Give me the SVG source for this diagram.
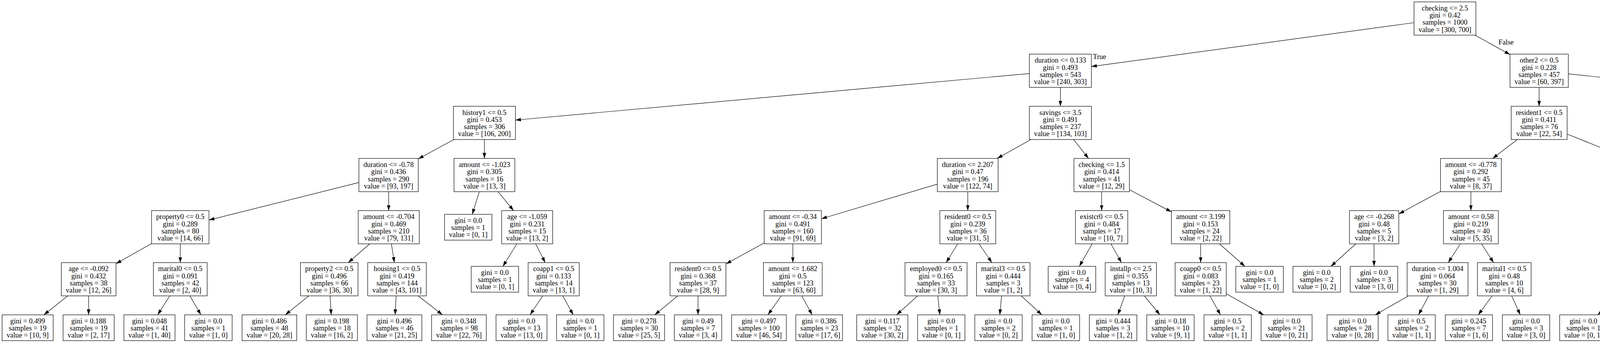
<svg xmlns="http://www.w3.org/2000/svg" width="6683" height="877" viewBox="0 0 6683 877">
<style>
text{font-family:"Liberation Serif","Times New Roman",Times,serif;font-size:18.3px;text-anchor:middle;fill:#000}
.nodes rect{fill:#fff;stroke:#000;stroke-width:1.2}
.edges line{stroke:#000;stroke-width:1.2;fill:none;marker-end:url(#ah)}
</style>
<defs>
<marker id="ah" markerUnits="userSpaceOnUse" markerWidth="14" markerHeight="10" refX="14" refY="5" orient="auto"><path d="M0,0.5L14,5L0,9.5z" fill="#000"/></marker>
</defs>
<rect width="6683" height="877" fill="#fff"/>
<g class="edges">
<line x1="3619.9" y1="58.0" x2="2794.0" y2="170.1"/>
<line x1="3775.8" y1="89.8" x2="3865.6" y2="139.5"/>
<line x1="2635.2" y1="188.1" x2="1319.5" y2="307.0"/>
<line x1="2714.6" y1="223.4" x2="2714.6" y2="271.7"/>
<line x1="3940.2" y1="223.4" x2="3940.2" y2="271.7"/>
<line x1="4014.9" y1="188.8" x2="5122.8" y2="306.3"/>
<line x1="1161.9" y1="356.7" x2="1070.7" y2="406.3"/>
<line x1="1240.1" y1="356.7" x2="1240.1" y2="405.1"/>
<line x1="2639.0" y1="356.7" x2="2552.9" y2="405.1"/>
<line x1="2748.3" y1="356.7" x2="2786.6" y2="405.1"/>
<line x1="3884.5" y1="356.7" x2="3821.2" y2="405.1"/>
<line x1="4011.8" y1="342.8" x2="4203.9" y2="419.7"/>
<line x1="5197.6" y1="356.7" x2="5197.6" y2="405.1"/>
<line x1="5272.4" y1="330.9" x2="5716.7" y2="429.9"/>
<line x1="918.8" y1="466.6" x2="535.0" y2="562.6"/>
<line x1="995.0" y1="490.1" x2="995.0" y2="538.5"/>
<line x1="1227.0" y1="490.1" x2="1209.0" y2="548.0"/>
<line x1="1275.0" y1="490.1" x2="1314.7" y2="538.5"/>
<line x1="2399.5" y1="470.8" x2="2102.9" y2="559.2"/>
<line x1="2477.5" y1="490.1" x2="2477.5" y2="538.5"/>
<line x1="2820.2" y1="490.1" x2="2820.2" y2="538.5"/>
<line x1="2891.3" y1="485.0" x2="2998.8" y2="541.6"/>
<line x1="3687.6" y1="489.5" x2="3580.9" y2="547.0"/>
<line x1="3765.5" y1="490.1" x2="3765.5" y2="538.5"/>
<line x1="4273.5" y1="490.1" x2="4273.5" y2="538.5"/>
<line x1="4343.6" y1="472.7" x2="4575.9" y2="556.3"/>
<line x1="5169.2" y1="490.1" x2="5136.9" y2="538.5"/>
<line x1="5226.1" y1="490.1" x2="5258.5" y2="538.5"/>
<line x1="5796.1" y1="490.1" x2="5796.1" y2="538.5"/>
<line x1="5875.5" y1="471.7" x2="6154.2" y2="556.5"/>
<line x1="388.0" y1="622.7" x2="296.9" y2="674.3"/>
<line x1="461.5" y1="623.5" x2="461.5" y2="671.5"/>
<line x1="946.5" y1="623.5" x2="891.5" y2="671.5"/>
<line x1="1002.0" y1="623.5" x2="1009.6" y2="671.5"/>
<line x1="1323.2" y1="623.5" x2="1287.4" y2="681.0"/>
<line x1="1371.2" y1="623.5" x2="1395.8" y2="671.5"/>
<line x1="1956.3" y1="621.2" x2="1858.4" y2="674.8"/>
<line x1="2029.6" y1="623.5" x2="2029.6" y2="671.5"/>
<line x1="2451.6" y1="623.5" x2="2422.2" y2="671.5"/>
<line x1="2506.5" y1="623.5" x2="2539.3" y2="671.5"/>
<line x1="2795.9" y1="623.5" x2="2763.1" y2="681.0"/>
<line x1="2844.0" y1="623.5" x2="2871.0" y2="671.5"/>
<line x1="3073.7" y1="623.5" x2="3073.7" y2="671.5"/>
<line x1="3121.8" y1="623.5" x2="3187.1" y2="681.0"/>
<line x1="3470.8" y1="623.5" x2="3407.2" y2="681.0"/>
<line x1="3517.5" y1="623.5" x2="3517.5" y2="681.0"/>
<line x1="3738.2" y1="623.5" x2="3707.5" y2="671.5"/>
<line x1="3792.8" y1="623.5" x2="3823.6" y2="671.5"/>
<line x1="4247.0" y1="623.5" x2="4217.2" y2="671.5"/>
<line x1="4299.8" y1="623.5" x2="4329.7" y2="671.5"/>
<line x1="4644.2" y1="623.5" x2="4644.2" y2="671.5"/>
<line x1="4692.5" y1="623.5" x2="4757.5" y2="681.0"/>
<line x1="5057.3" y1="623.5" x2="4988.0" y2="681.0"/>
<line x1="5108.45" y1="623.5" x2="5108.45" y2="671.5"/>
<line x1="5286.95" y1="623.5" x2="5286.95" y2="671.5"/>
<line x1="5339.3" y1="623.5" x2="5410.3" y2="681.0"/>
<line x1="5771.4" y1="623.5" x2="5743.5" y2="671.5"/>
<line x1="5821.3" y1="623.5" x2="5849.8" y2="671.5"/>
<line x1="6235.0" y1="623.5" x2="6235.0" y2="671.5"/>
<line x1="6308.6" y1="623.5" x2="6400.2" y2="676.3"/>
<line x1="173.4" y1="756.5" x2="112.3" y2="805"/>
<line x1="226.9" y1="756.5" x2="226.9" y2="805"/>
<line x1="434.5" y1="756.5" x2="403.6" y2="805"/>
<line x1="486.2" y1="756.5" x2="514.3" y2="805"/>
<line x1="790.3" y1="756.5" x2="730.4" y2="805"/>
<line x1="845.1" y1="756.5" x2="847.8" y2="805"/>
<line x1="1014.1" y1="756.5" x2="1011.5" y2="805"/>
<line x1="1070.7" y1="756.5" x2="1132.7" y2="805"/>
<line x1="1389.2" y1="756.5" x2="1357.0" y2="805"/>
<line x1="1440.8" y1="756.5" x2="1467.4" y2="805"/>
<line x1="1735.1" y1="756.5" x2="1676.1" y2="805"/>
<line x1="1786.9" y1="756.5" x2="1786.9" y2="805"/>
<line x1="1999.9" y1="756.5" x2="1966.0" y2="805"/>
<line x1="2052.7" y1="756.5" x2="2079.1" y2="805"/>
<line x1="2349.1" y1="756.5" x2="2295.3" y2="805"/>
<line x1="2400.8" y1="756.5" x2="2406.1" y2="805"/>
<line x1="2564.1" y1="756.5" x2="2559.4" y2="805"/>
<line x1="2614.4" y1="756.5" x2="2667.1" y2="805"/>
<line x1="2879.4" y1="756.5" x2="2861.6" y2="805"/>
<line x1="2929.7" y1="756.5" x2="2969.4" y2="805"/>
<line x1="3097.5" y1="756.5" x2="3124.5" y2="805"/>
<line x1="3139.2" y1="750.9" x2="3235.2" y2="805"/>
<line x1="3605.6" y1="756.5" x2="3520.5" y2="805"/>
<line x1="3657.4" y1="756.5" x2="3631.4" y2="805"/>
<line x1="3819.9" y1="756.5" x2="3784.4" y2="805"/>
<line x1="3870.0" y1="756.5" x2="3891.9" y2="805"/>
<line x1="4143.8" y1="756.5" x2="4090.1" y2="805"/>
<line x1="4194.1" y1="756.5" x2="4197.8" y2="805"/>
<line x1="4353.1" y1="756.5" x2="4349.6" y2="805"/>
<line x1="4403.3" y1="756.5" x2="4457.1" y2="805"/>
<line x1="4644.05" y1="756.5" x2="4644.05" y2="805"/>
<line x1="4695.7" y1="756.5" x2="4754.7" y2="805"/>
<line x1="5053.8" y1="756.5" x2="4991.4" y2="805"/>
<line x1="5110.7" y1="756.5" x2="5113.4" y2="805"/>
<line x1="5278.2" y1="756.5" x2="5268.3" y2="805"/>
<line x1="5328.5" y1="756.5" x2="5376.0" y2="805"/>
<line x1="5664.0" y1="756.5" x2="5601.4" y2="805"/>
<line x1="5719.0" y1="756.5" x2="5719.0" y2="805"/>
<line x1="5874.95" y1="756.5" x2="5874.95" y2="805"/>
<line x1="5925.2" y1="756.5" x2="5982.5" y2="805"/>
<line x1="6212.2" y1="756.5" x2="6186.1" y2="805"/>
<line x1="6262.4" y1="756.5" x2="6293.6" y2="805"/>
<line x1="6465.5" y1="756.5" x2="6465.5" y2="805"/>
<line x1="6517.2" y1="756.5" x2="6576.3" y2="805"/>
<text x="2814.8" y="151">True</text>
<text x="3855.6" y="114.3">False</text>
</g>
<g class="nodes">
<g id="n0" transform="translate(3699.1,47.3)"><rect x="-79.2" y="-42.5" width="158.4" height="85"/><text y="-20.65"><tspan x="0">checking &lt;= 2.5</tspan><tspan x="0" dy="18.3">gini = 0.42</tspan><tspan x="0" dy="18.3">samples = 1000</tspan><tspan x="0" dy="18.3">value = [300, 700]</tspan></text></g>
<g id="n1" transform="translate(2714.6,180.9)"><rect x="-79.4" y="-42.5" width="158.8" height="85"/><text y="-20.65"><tspan x="0">duration &lt;= 0.133</tspan><tspan x="0" dy="18.3">gini = 0.493</tspan><tspan x="0" dy="18.3">samples = 543</tspan><tspan x="0" dy="18.3">value = [240, 303]</tspan></text></g>
<g id="n2" transform="translate(3940.25,180.9)"><rect x="-74.65" y="-42.5" width="149.3" height="85"/><text y="-20.65"><tspan x="0">other2 &lt;= 0.5</tspan><tspan x="0" dy="18.3">gini = 0.228</tspan><tspan x="0" dy="18.3">samples = 457</tspan><tspan x="0" dy="18.3">value = [60, 397]</tspan></text></g>
<g id="n3" transform="translate(1240.1,314.2)"><rect x="-79.4" y="-42.5" width="158.8" height="85"/><text y="-20.65"><tspan x="0">history1 &lt;= 0.5</tspan><tspan x="0" dy="18.3">gini = 0.453</tspan><tspan x="0" dy="18.3">samples = 306</tspan><tspan x="0" dy="18.3">value = [106, 200]</tspan></text></g>
<g id="n4" transform="translate(2714.6,314.2)"><rect x="-79.4" y="-42.5" width="158.8" height="85"/><text y="-20.65"><tspan x="0">savings &lt;= 3.5</tspan><tspan x="0" dy="18.3">gini = 0.491</tspan><tspan x="0" dy="18.3">samples = 237</tspan><tspan x="0" dy="18.3">value = [134, 103]</tspan></text></g>
<g id="n5" transform="translate(3940.2,314.2)"><rect x="-71.6" y="-42.5" width="143.2" height="85"/><text y="-20.65"><tspan x="0">resident1 &lt;= 0.5</tspan><tspan x="0" dy="18.3">gini = 0.411</tspan><tspan x="0" dy="18.3">samples = 76</tspan><tspan x="0" dy="18.3">value = [22, 54]</tspan></text></g>
<g id="n6" transform="translate(5197.6,314.2)"><rect x="-74.8" y="-42.5" width="149.6" height="85"/><text y="-20.65"><tspan x="0">age &lt;= -0.444</tspan><tspan x="0" dy="18.3">gini = 0.18</tspan><tspan x="0" dy="18.3">samples = 381</tspan><tspan x="0" dy="18.3">value = [38, 343]</tspan></text></g>
<g id="n7" transform="translate(994.75,447.6)"><rect x="-75.95" y="-42.5" width="151.9" height="85"/><text y="-20.65"><tspan x="0">duration &lt;= -0.78</tspan><tspan x="0" dy="18.3">gini = 0.436</tspan><tspan x="0" dy="18.3">samples = 290</tspan><tspan x="0" dy="18.3">value = [93, 197]</tspan></text></g>
<g id="n8" transform="translate(1240.15,447.6)"><rect x="-77.85" y="-42.5" width="155.7" height="85"/><text y="-20.65"><tspan x="0">amount &lt;= -1.023</tspan><tspan x="0" dy="18.3">gini = 0.305</tspan><tspan x="0" dy="18.3">samples = 16</tspan><tspan x="0" dy="18.3">value = [13, 3]</tspan></text></g>
<g id="n9" transform="translate(2477.35,447.6)"><rect x="-77.85" y="-42.5" width="155.7" height="85"/><text y="-20.65"><tspan x="0">duration &lt;= 2.207</tspan><tspan x="0" dy="18.3">gini = 0.47</tspan><tspan x="0" dy="18.3">samples = 196</tspan><tspan x="0" dy="18.3">value = [122, 74]</tspan></text></g>
<g id="n10" transform="translate(2820.3,447.6)"><rect x="-71" y="-42.5" width="142" height="85"/><text y="-20.65"><tspan x="0">checking &lt;= 1.5</tspan><tspan x="0" dy="18.3">gini = 0.414</tspan><tspan x="0" dy="18.3">samples = 41</tspan><tspan x="0" dy="18.3">value = [12, 29]</tspan></text></g>
<g id="n11" transform="translate(3765.5,447.6)"><rect x="-77.9" y="-42.5" width="155.8" height="85"/><text y="-20.65"><tspan x="0">amount &lt;= -0.778</tspan><tspan x="0" dy="18.3">gini = 0.292</tspan><tspan x="0" dy="18.3">samples = 45</tspan><tspan x="0" dy="18.3">value = [8, 37]</tspan></text></g>
<g id="n12" transform="translate(4273.75,447.6)"><rect x="-69.85" y="-42.5" width="139.7" height="85"/><text y="-20.65"><tspan x="0">age &lt;= -0.356</tspan><tspan x="0" dy="18.3">gini = 0.495</tspan><tspan x="0" dy="18.3">samples = 31</tspan><tspan x="0" dy="18.3">value = [14, 17]</tspan></text></g>
<g id="n13" transform="translate(5197.6,447.6)"><rect x="-74.8" y="-42.5" width="149.6" height="85"/><text y="-20.65"><tspan x="0">amount &lt;= 1.14</tspan><tspan x="0" dy="18.3">gini = 0.279</tspan><tspan x="0" dy="18.3">samples = 137</tspan><tspan x="0" dy="18.3">value = [23, 114]</tspan></text></g>
<g id="n14" transform="translate(5796.1,447.6)"><rect x="-79.4" y="-42.5" width="158.8" height="85"/><text y="-20.65"><tspan x="0">employed1 &lt;= 0.5</tspan><tspan x="0" dy="18.3">gini = 0.115</tspan><tspan x="0" dy="18.3">samples = 244</tspan><tspan x="0" dy="18.3">value = [15, 229]</tspan></text></g>
<g id="n15" transform="translate(461.5,581)"><rect x="-73.5" y="-42.5" width="147" height="85"/><text y="-20.65"><tspan x="0">property0 &lt;= 0.5</tspan><tspan x="0" dy="18.3">gini = 0.289</tspan><tspan x="0" dy="18.3">samples = 80</tspan><tspan x="0" dy="18.3">value = [14, 66]</tspan></text></g>
<g id="n16" transform="translate(995.2,581)"><rect x="-78.2" y="-42.5" width="156.4" height="85"/><text y="-20.65"><tspan x="0">amount &lt;= -0.704</tspan><tspan x="0" dy="18.3">gini = 0.469</tspan><tspan x="0" dy="18.3">samples = 210</tspan><tspan x="0" dy="18.3">value = [79, 131]</tspan></text></g>
<g id="n17" transform="translate(1198.75,581)"><rect x="-60.65" y="-33" width="121.3" height="66"/><text y="-11.5"><tspan x="0">gini = 0.0</tspan><tspan x="0" dy="18.3">samples = 1</tspan><tspan x="0" dy="18.3">value = [0, 1]</tspan></text></g>
<g id="n18" transform="translate(1349.55,581)"><rect x="-65.25" y="-42.5" width="130.5" height="85"/><text y="-20.65"><tspan x="0">age &lt;= -1.059</tspan><tspan x="0" dy="18.3">gini = 0.231</tspan><tspan x="0" dy="18.3">samples = 15</tspan><tspan x="0" dy="18.3">value = [13, 2]</tspan></text></g>
<g id="n19" transform="translate(2029.6,581)"><rect x="-73.3" y="-42.5" width="146.6" height="85"/><text y="-20.65"><tspan x="0">amount &lt;= -0.34</tspan><tspan x="0" dy="18.3">gini = 0.491</tspan><tspan x="0" dy="18.3">samples = 160</tspan><tspan x="0" dy="18.3">value = [91, 69]</tspan></text></g>
<g id="n20" transform="translate(2477.55,581)"><rect x="-71.55" y="-42.5" width="143.1" height="85"/><text y="-20.65"><tspan x="0">resident0 &lt;= 0.5</tspan><tspan x="0" dy="18.3">gini = 0.239</tspan><tspan x="0" dy="18.3">samples = 36</tspan><tspan x="0" dy="18.3">value = [31, 5]</tspan></text></g>
<g id="n21" transform="translate(2820.1,581)"><rect x="-67" y="-42.5" width="134" height="85"/><text y="-20.65"><tspan x="0">existcr0 &lt;= 0.5</tspan><tspan x="0" dy="18.3">gini = 0.484</tspan><tspan x="0" dy="18.3">samples = 17</tspan><tspan x="0" dy="18.3">value = [10, 7]</tspan></text></g>
<g id="n22" transform="translate(3073.6,581)"><rect x="-74.8" y="-42.5" width="149.6" height="85"/><text y="-20.65"><tspan x="0">amount &lt;= 3.199</tspan><tspan x="0" dy="18.3">gini = 0.153</tspan><tspan x="0" dy="18.3">samples = 24</tspan><tspan x="0" dy="18.3">value = [2, 22]</tspan></text></g>
<g id="n23" transform="translate(3517.75,581)"><rect x="-63.15" y="-42.5" width="126.3" height="85"/><text y="-20.65"><tspan x="0">age &lt;= -0.268</tspan><tspan x="0" dy="18.3">gini = 0.48</tspan><tspan x="0" dy="18.3">samples = 5</tspan><tspan x="0" dy="18.3">value = [3, 2]</tspan></text></g>
<g id="n24" transform="translate(3765.5,581)"><rect x="-70.2" y="-42.5" width="140.4" height="85"/><text y="-20.65"><tspan x="0">amount &lt;= 0.58</tspan><tspan x="0" dy="18.3">gini = 0.219</tspan><tspan x="0" dy="18.3">samples = 40</tspan><tspan x="0" dy="18.3">value = [5, 35]</tspan></text></g>
<g id="n25" transform="translate(4273.35,581)"><rect x="-65.25" y="-42.5" width="130.5" height="85"/><text y="-20.65"><tspan x="0">age &lt;= -0.884</tspan><tspan x="0" dy="18.3">gini = 0.375</tspan><tspan x="0" dy="18.3">samples = 16</tspan><tspan x="0" dy="18.3">value = [4, 12]</tspan></text></g>
<g id="n26" transform="translate(4644.4,581)"><rect x="-68.5" y="-42.5" width="137" height="85"/><text y="-20.65"><tspan x="0">marital1 &lt;= 0.5</tspan><tspan x="0" dy="18.3">gini = 0.444</tspan><tspan x="0" dy="18.3">samples = 15</tspan><tspan x="0" dy="18.3">value = [10, 5]</tspan></text></g>
<g id="n27" transform="translate(5108.45,581)"><rect x="-74.85" y="-42.5" width="149.7" height="85"/><text y="-20.65"><tspan x="0">age &lt;= -1.411</tspan><tspan x="0" dy="18.3">gini = 0.243</tspan><tspan x="0" dy="18.3">samples = 127</tspan><tspan x="0" dy="18.3">value = [18, 109]</tspan></text></g>
<g id="n28" transform="translate(5286.95,581)"><rect x="-79.25" y="-42.5" width="158.5" height="85"/><text y="-20.65"><tspan x="0">employed3 &lt;= 0.5</tspan><tspan x="0" dy="18.3">gini = 0.5</tspan><tspan x="0" dy="18.3">samples = 10</tspan><tspan x="0" dy="18.3">value = [5, 5]</tspan></text></g>
<g id="n29" transform="translate(5796.1,581)"><rect x="-74.8" y="-42.5" width="149.6" height="85"/><text y="-20.65"><tspan x="0">age &lt;= 2.635</tspan><tspan x="0" dy="18.3">gini = 0.086</tspan><tspan x="0" dy="18.3">samples = 222</tspan><tspan x="0" dy="18.3">value = [10, 212]</tspan></text></g>
<g id="n30" transform="translate(6234.95,581)"><rect x="-80.75" y="-42.5" width="161.5" height="85"/><text y="-20.65"><tspan x="0">duration &lt;= -0.946</tspan><tspan x="0" dy="18.3">gini = 0.351</tspan><tspan x="0" dy="18.3">samples = 22</tspan><tspan x="0" dy="18.3">value = [5, 17]</tspan></text></g>
<g id="n31" transform="translate(226.9,714)"><rect x="-70" y="-42.5" width="140" height="85"/><text y="-20.65"><tspan x="0">age &lt;= -0.092</tspan><tspan x="0" dy="18.3">gini = 0.432</tspan><tspan x="0" dy="18.3">samples = 38</tspan><tspan x="0" dy="18.3">value = [12, 26]</tspan></text></g>
<g id="n32" transform="translate(461.5,714)"><rect x="-68.9" y="-42.5" width="137.8" height="85"/><text y="-20.65"><tspan x="0">marital0 &lt;= 0.5</tspan><tspan x="0" dy="18.3">gini = 0.091</tspan><tspan x="0" dy="18.3">samples = 42</tspan><tspan x="0" dy="18.3">value = [2, 40]</tspan></text></g>
<g id="n33" transform="translate(842.85,714)"><rect x="-73.65" y="-42.5" width="147.3" height="85"/><text y="-20.65"><tspan x="0">property2 &lt;= 0.5</tspan><tspan x="0" dy="18.3">gini = 0.496</tspan><tspan x="0" dy="18.3">samples = 66</tspan><tspan x="0" dy="18.3">value = [36, 30]</tspan></text></g>
<g id="n34" transform="translate(1016.4,714)"><rect x="-75" y="-42.5" width="150" height="85"/><text y="-20.65"><tspan x="0">housing1 &lt;= 0.5</tspan><tspan x="0" dy="18.3">gini = 0.419</tspan><tspan x="0" dy="18.3">samples = 144</tspan><tspan x="0" dy="18.3">value = [43, 101]</tspan></text></g>
<g id="n35" transform="translate(1266.95,714)"><rect x="-60.65" y="-33" width="121.3" height="66"/><text y="-11.5"><tspan x="0">gini = 0.0</tspan><tspan x="0" dy="18.3">samples = 1</tspan><tspan x="0" dy="18.3">value = [0, 1]</tspan></text></g>
<g id="n36" transform="translate(1417.45,714)"><rect x="-65.45" y="-42.5" width="130.9" height="85"/><text y="-20.65"><tspan x="0">coapp1 &lt;= 0.5</tspan><tspan x="0" dy="18.3">gini = 0.133</tspan><tspan x="0" dy="18.3">samples = 14</tspan><tspan x="0" dy="18.3">value = [13, 1]</tspan></text></g>
<g id="n37" transform="translate(1786.85,714)"><rect x="-71.55" y="-42.5" width="143.1" height="85"/><text y="-20.65"><tspan x="0">resident0 &lt;= 0.5</tspan><tspan x="0" dy="18.3">gini = 0.368</tspan><tspan x="0" dy="18.3">samples = 37</tspan><tspan x="0" dy="18.3">value = [28, 9]</tspan></text></g>
<g id="n38" transform="translate(2029.6,714)"><rect x="-75.2" y="-42.5" width="150.4" height="85"/><text y="-20.65"><tspan x="0">amount &lt;= 1.682</tspan><tspan x="0" dy="18.3">gini = 0.5</tspan><tspan x="0" dy="18.3">samples = 123</tspan><tspan x="0" dy="18.3">value = [63, 60]</tspan></text></g>
<g id="n39" transform="translate(2396.2,714)"><rect x="-79.4" y="-42.5" width="158.8" height="85"/><text y="-20.65"><tspan x="0">employed0 &lt;= 0.5</tspan><tspan x="0" dy="18.3">gini = 0.165</tspan><tspan x="0" dy="18.3">samples = 33</tspan><tspan x="0" dy="18.3">value = [30, 3]</tspan></text></g>
<g id="n40" transform="translate(2568.3,714)"><rect x="-68.5" y="-42.5" width="137" height="85"/><text y="-20.65"><tspan x="0">marital3 &lt;= 0.5</tspan><tspan x="0" dy="18.3">gini = 0.444</tspan><tspan x="0" dy="18.3">samples = 3</tspan><tspan x="0" dy="18.3">value = [1, 2]</tspan></text></g>
<g id="n41" transform="translate(2744.25,714)"><rect x="-60.85" y="-33" width="121.7" height="66"/><text y="-11.5"><tspan x="0">gini = 0.0</tspan><tspan x="0" dy="18.3">samples = 4</tspan><tspan x="0" dy="18.3">value = [0, 4]</tspan></text></g>
<g id="n42" transform="translate(2894.9,714)"><rect x="-65.6" y="-42.5" width="131.2" height="85"/><text y="-20.65"><tspan x="0">installp &lt;= 2.5</tspan><tspan x="0" dy="18.3">gini = 0.355</tspan><tspan x="0" dy="18.3">samples = 13</tspan><tspan x="0" dy="18.3">value = [10, 3]</tspan></text></g>
<g id="n43" transform="translate(3073.8,714)"><rect x="-65.4" y="-42.5" width="130.8" height="85"/><text y="-20.65"><tspan x="0">coapp0 &lt;= 0.5</tspan><tspan x="0" dy="18.3">gini = 0.083</tspan><tspan x="0" dy="18.3">samples = 23</tspan><tspan x="0" dy="18.3">value = [1, 22]</tspan></text></g>
<g id="n44" transform="translate(3224.55,714)"><rect x="-60.85" y="-33" width="121.7" height="66"/><text y="-11.5"><tspan x="0">gini = 0.0</tspan><tspan x="0" dy="18.3">samples = 1</tspan><tspan x="0" dy="18.3">value = [1, 0]</tspan></text></g>
<g id="n45" transform="translate(3370.75,714)"><rect x="-60.85" y="-33" width="121.7" height="66"/><text y="-11.5"><tspan x="0">gini = 0.0</tspan><tspan x="0" dy="18.3">samples = 2</tspan><tspan x="0" dy="18.3">value = [0, 2]</tspan></text></g>
<g id="n46" transform="translate(3517.35,714)"><rect x="-60.85" y="-33" width="121.7" height="66"/><text y="-11.5"><tspan x="0">gini = 0.0</tspan><tspan x="0" dy="18.3">samples = 3</tspan><tspan x="0" dy="18.3">value = [3, 0]</tspan></text></g>
<g id="n47" transform="translate(3680.2,714)"><rect x="-77.9" y="-42.5" width="155.8" height="85"/><text y="-20.65"><tspan x="0">duration &lt;= 1.004</tspan><tspan x="0" dy="18.3">gini = 0.064</tspan><tspan x="0" dy="18.3">samples = 30</tspan><tspan x="0" dy="18.3">value = [1, 29]</tspan></text></g>
<g id="n48" transform="translate(3850.9,714)"><rect x="-68.7" y="-42.5" width="137.4" height="85"/><text y="-20.65"><tspan x="0">marital1 &lt;= 0.5</tspan><tspan x="0" dy="18.3">gini = 0.48</tspan><tspan x="0" dy="18.3">samples = 10</tspan><tspan x="0" dy="18.3">value = [4, 6]</tspan></text></g>
<g id="n49" transform="translate(4190.9,714)"><rect x="-73.5" y="-42.5" width="147" height="85"/><text y="-20.65"><tspan x="0">property0 &lt;= 0.5</tspan><tspan x="0" dy="18.3">gini = 0.444</tspan><tspan x="0" dy="18.3">samples = 3</tspan><tspan x="0" dy="18.3">value = [2, 1]</tspan></text></g>
<g id="n50" transform="translate(4356.2,714)"><rect x="-66.6" y="-42.5" width="133.2" height="85"/><text y="-20.65"><tspan x="0">existcr0 &lt;= 0.5</tspan><tspan x="0" dy="18.3">gini = 0.26</tspan><tspan x="0" dy="18.3">samples = 13</tspan><tspan x="0" dy="18.3">value = [2, 11]</tspan></text></g>
<g id="n51" transform="translate(4644.05,714)"><rect x="-65.45" y="-42.5" width="130.9" height="85"/><text y="-20.65"><tspan x="0">age &lt;= 0.832</tspan><tspan x="0" dy="18.3">gini = 0.278</tspan><tspan x="0" dy="18.3">samples = 12</tspan><tspan x="0" dy="18.3">value = [10, 2]</tspan></text></g>
<g id="n52" transform="translate(4794.85,714)"><rect x="-60.85" y="-33" width="121.7" height="66"/><text y="-11.5"><tspan x="0">gini = 0.0</tspan><tspan x="0" dy="18.3">samples = 3</tspan><tspan x="0" dy="18.3">value = [0, 3]</tspan></text></g>
<g id="n53" transform="translate(4948.25,714)"><rect x="-60.85" y="-33" width="121.7" height="66"/><text y="-11.5"><tspan x="0">gini = 0.0</tspan><tspan x="0" dy="18.3">samples = 1</tspan><tspan x="0" dy="18.3">value = [1, 0]</tspan></text></g>
<g id="n54" transform="translate(5108.45,714)"><rect x="-74.85" y="-42.5" width="149.7" height="85"/><text y="-20.65"><tspan x="0">history1 &lt;= 0.5</tspan><tspan x="0" dy="18.3">gini = 0.233</tspan><tspan x="0" dy="18.3">samples = 126</tspan><tspan x="0" dy="18.3">value = [17, 109]</tspan></text></g>
<g id="n55" transform="translate(5286.95,714)"><rect x="-79.25" y="-42.5" width="158.5" height="85"/><text y="-20.65"><tspan x="0">employed2 &lt;= 0.5</tspan><tspan x="0" dy="18.3">gini = 0.408</tspan><tspan x="0" dy="18.3">samples = 7</tspan><tspan x="0" dy="18.3">value = [5, 2]</tspan></text></g>
<g id="n56" transform="translate(5450.95,714)"><rect x="-60.65" y="-33" width="121.3" height="66"/><text y="-11.5"><tspan x="0">gini = 0.0</tspan><tspan x="0" dy="18.3">samples = 3</tspan><tspan x="0" dy="18.3">value = [0, 3]</tspan></text></g>
<g id="n57" transform="translate(5718.85,714)"><rect x="-70.95" y="-42.5" width="141.9" height="85"/><text y="-20.65"><tspan x="0">checking &lt;= 3.5</tspan><tspan x="0" dy="18.3">gini = 0.071</tspan><tspan x="0" dy="18.3">samples = 217</tspan><tspan x="0" dy="18.3">value = [8, 209]</tspan></text></g>
<g id="n58" transform="translate(5874.95,714)"><rect x="-60.65" y="-42.5" width="121.3" height="85"/><text y="-20.65"><tspan x="0">age &lt;= 3.118</tspan><tspan x="0" dy="18.3">gini = 0.48</tspan><tspan x="0" dy="18.3">samples = 5</tspan><tspan x="0" dy="18.3">value = [2, 3]</tspan></text></g>
<g id="n59" transform="translate(6235.1,714)"><rect x="-73.7" y="-42.5" width="147.4" height="85"/><text y="-20.65"><tspan x="0">property3 &lt;= 0.5</tspan><tspan x="0" dy="18.3">gini = 0.444</tspan><tspan x="0" dy="18.3">samples = 3</tspan><tspan x="0" dy="18.3">value = [2, 1]</tspan></text></g>
<g id="n60" transform="translate(6465.45,714)"><rect x="-65.25" y="-42.5" width="130.5" height="85"/><text y="-20.65"><tspan x="0">coapp1 &lt;= 0.5</tspan><tspan x="0" dy="18.3">gini = 0.266</tspan><tspan x="0" dy="18.3">samples = 19</tspan><tspan x="0" dy="18.3">value = [3, 16]</tspan></text></g>
<g id="n61" transform="translate(70.8,838)"><rect x="-65.4" y="-33" width="130.8" height="66"/><text y="-11.5"><tspan x="0">gini = 0.499</tspan><tspan x="0" dy="18.3">samples = 19</tspan><tspan x="0" dy="18.3">value = [10, 9]</tspan></text></g>
<g id="n62" transform="translate(226.9,838)"><rect x="-65.4" y="-33" width="130.8" height="66"/><text y="-11.5"><tspan x="0">gini = 0.188</tspan><tspan x="0" dy="18.3">samples = 19</tspan><tspan x="0" dy="18.3">value = [2, 17]</tspan></text></g>
<g id="n63" transform="translate(382.65,838)"><rect x="-65.45" y="-33" width="130.9" height="66"/><text y="-11.5"><tspan x="0">gini = 0.048</tspan><tspan x="0" dy="18.3">samples = 41</tspan><tspan x="0" dy="18.3">value = [1, 40]</tspan></text></g>
<g id="n64" transform="translate(533.45,838)"><rect x="-60.85" y="-33" width="121.7" height="66"/><text y="-11.5"><tspan x="0">gini = 0.0</tspan><tspan x="0" dy="18.3">samples = 1</tspan><tspan x="0" dy="18.3">value = [1, 0]</tspan></text></g>
<g id="n65" transform="translate(689.6,838)"><rect x="-70" y="-33" width="140" height="66"/><text y="-11.5"><tspan x="0">gini = 0.486</tspan><tspan x="0" dy="18.3">samples = 48</tspan><tspan x="0" dy="18.3">value = [20, 28]</tspan></text></g>
<g id="n66" transform="translate(849.55,838)"><rect x="-65.45" y="-33" width="130.9" height="66"/><text y="-11.5"><tspan x="0">gini = 0.198</tspan><tspan x="0" dy="18.3">samples = 18</tspan><tspan x="0" dy="18.3">value = [16, 2]</tspan></text></g>
<g id="n67" transform="translate(1009.7,838)"><rect x="-70.2" y="-33" width="140.4" height="66"/><text y="-11.5"><tspan x="0">gini = 0.496</tspan><tspan x="0" dy="18.3">samples = 46</tspan><tspan x="0" dy="18.3">value = [21, 25]</tspan></text></g>
<g id="n68" transform="translate(1174.85,838)"><rect x="-70.05" y="-33" width="140.1" height="66"/><text y="-11.5"><tspan x="0">gini = 0.348</tspan><tspan x="0" dy="18.3">samples = 98</tspan><tspan x="0" dy="18.3">value = [22, 76]</tspan></text></g>
<g id="n69" transform="translate(1335.05,838)"><rect x="-65.25" y="-33" width="130.5" height="66"/><text y="-11.5"><tspan x="0">gini = 0.0</tspan><tspan x="0" dy="18.3">samples = 13</tspan><tspan x="0" dy="18.3">value = [13, 0]</tspan></text></g>
<g id="n70" transform="translate(1485.45,838)"><rect x="-60.65" y="-33" width="121.3" height="66"/><text y="-11.5"><tspan x="0">gini = 0.0</tspan><tspan x="0" dy="18.3">samples = 1</tspan><tspan x="0" dy="18.3">value = [0, 1]</tspan></text></g>
<g id="n71" transform="translate(1635.95,838)"><rect x="-65.45" y="-33" width="130.9" height="66"/><text y="-11.5"><tspan x="0">gini = 0.278</tspan><tspan x="0" dy="18.3">samples = 30</tspan><tspan x="0" dy="18.3">value = [25, 5]</tspan></text></g>
<g id="n72" transform="translate(1786.95,838)"><rect x="-60.65" y="-33" width="121.3" height="66"/><text y="-11.5"><tspan x="0">gini = 0.49</tspan><tspan x="0" dy="18.3">samples = 7</tspan><tspan x="0" dy="18.3">value = [3, 4]</tspan></text></g>
<g id="n73" transform="translate(1942.95,838)"><rect x="-70.05" y="-33" width="140.1" height="66"/><text y="-11.5"><tspan x="0">gini = 0.497</tspan><tspan x="0" dy="18.3">samples = 100</tspan><tspan x="0" dy="18.3">value = [46, 54]</tspan></text></g>
<g id="n74" transform="translate(2097.1,838)"><rect x="-59.7" y="-33" width="119.4" height="66"/><text y="-11.5"><tspan x="0">gini = 0.386</tspan><tspan x="0" dy="18.3">samples = 23</tspan><tspan x="0" dy="18.3">value = [17, 6]</tspan></text></g>
<g id="n75" transform="translate(2258.65,838)"><rect x="-65.45" y="-33" width="130.9" height="66"/><text y="-11.5"><tspan x="0">gini = 0.117</tspan><tspan x="0" dy="18.3">samples = 32</tspan><tspan x="0" dy="18.3">value = [30, 2]</tspan></text></g>
<g id="n76" transform="translate(2409.65,838)"><rect x="-60.65" y="-33" width="121.3" height="66"/><text y="-11.5"><tspan x="0">gini = 0.0</tspan><tspan x="0" dy="18.3">samples = 1</tspan><tspan x="0" dy="18.3">value = [0, 1]</tspan></text></g>
<g id="n77" transform="translate(2556.15,838)"><rect x="-60.65" y="-33" width="121.3" height="66"/><text y="-11.5"><tspan x="0">gini = 0.0</tspan><tspan x="0" dy="18.3">samples = 2</tspan><tspan x="0" dy="18.3">value = [0, 2]</tspan></text></g>
<g id="n78" transform="translate(2702.95,838)"><rect x="-60.85" y="-33" width="121.7" height="66"/><text y="-11.5"><tspan x="0">gini = 0.0</tspan><tspan x="0" dy="18.3">samples = 1</tspan><tspan x="0" dy="18.3">value = [1, 0]</tspan></text></g>
<g id="n79" transform="translate(2849.55,838)"><rect x="-60.85" y="-33" width="121.7" height="66"/><text y="-11.5"><tspan x="0">gini = 0.444</tspan><tspan x="0" dy="18.3">samples = 3</tspan><tspan x="0" dy="18.3">value = [1, 2]</tspan></text></g>
<g id="n80" transform="translate(2996.35,838)"><rect x="-60.65" y="-33" width="121.3" height="66"/><text y="-11.5"><tspan x="0">gini = 0.18</tspan><tspan x="0" dy="18.3">samples = 10</tspan><tspan x="0" dy="18.3">value = [9, 1]</tspan></text></g>
<g id="n81" transform="translate(3142.85,838)"><rect x="-60.65" y="-33" width="121.3" height="66"/><text y="-11.5"><tspan x="0">gini = 0.5</tspan><tspan x="0" dy="18.3">samples = 2</tspan><tspan x="0" dy="18.3">value = [1, 1]</tspan></text></g>
<g id="n82" transform="translate(3293.65,838)"><rect x="-65.25" y="-33" width="130.5" height="66"/><text y="-11.5"><tspan x="0">gini = 0.0</tspan><tspan x="0" dy="18.3">samples = 21</tspan><tspan x="0" dy="18.3">value = [0, 21]</tspan></text></g>
<g id="n83" transform="translate(3462.65,838)"><rect x="-65.45" y="-33" width="130.9" height="66"/><text y="-11.5"><tspan x="0">gini = 0.0</tspan><tspan x="0" dy="18.3">samples = 28</tspan><tspan x="0" dy="18.3">value = [0, 28]</tspan></text></g>
<g id="n84" transform="translate(3613.65,838)"><rect x="-60.65" y="-33" width="121.3" height="66"/><text y="-11.5"><tspan x="0">gini = 0.5</tspan><tspan x="0" dy="18.3">samples = 2</tspan><tspan x="0" dy="18.3">value = [1, 1]</tspan></text></g>
<g id="n85" transform="translate(3760.35,838)"><rect x="-60.45" y="-33" width="120.9" height="66"/><text y="-11.5"><tspan x="0">gini = 0.245</tspan><tspan x="0" dy="18.3">samples = 7</tspan><tspan x="0" dy="18.3">value = [1, 6]</tspan></text></g>
<g id="n86" transform="translate(3906.75,838)"><rect x="-60.65" y="-33" width="121.3" height="66"/><text y="-11.5"><tspan x="0">gini = 0.0</tspan><tspan x="0" dy="18.3">samples = 3</tspan><tspan x="0" dy="18.3">value = [3, 0]</tspan></text></g>
<g id="n87" transform="translate(4053.55,838)"><rect x="-60.85" y="-33" width="121.7" height="66"/><text y="-11.5"><tspan x="0">gini = 0.0</tspan><tspan x="0" dy="18.3">samples = 1</tspan><tspan x="0" dy="18.3">value = [0, 1]</tspan></text></g>
<g id="n88" transform="translate(4200.25,838)"><rect x="-60.65" y="-33" width="121.3" height="66"/><text y="-11.5"><tspan x="0">gini = 0.0</tspan><tspan x="0" dy="18.3">samples = 2</tspan><tspan x="0" dy="18.3">value = [2, 0]</tspan></text></g>
<g id="n89" transform="translate(4347.25,838)"><rect x="-60.65" y="-33" width="121.3" height="66"/><text y="-11.5"><tspan x="0">gini = 0.444</tspan><tspan x="0" dy="18.3">samples = 6</tspan><tspan x="0" dy="18.3">value = [2, 4]</tspan></text></g>
<g id="n90" transform="translate(4493.65,838)"><rect x="-60.45" y="-33" width="120.9" height="66"/><text y="-11.5"><tspan x="0">gini = 0.0</tspan><tspan x="0" dy="18.3">samples = 7</tspan><tspan x="0" dy="18.3">value = [0, 7]</tspan></text></g>
<g id="n91" transform="translate(4644.05,838)"><rect x="-65.45" y="-33" width="130.9" height="66"/><text y="-11.5"><tspan x="0">gini = 0.165</tspan><tspan x="0" dy="18.3">samples = 11</tspan><tspan x="0" dy="18.3">value = [10, 1]</tspan></text></g>
<g id="n92" transform="translate(4794.85,838)"><rect x="-60.85" y="-33" width="121.7" height="66"/><text y="-11.5"><tspan x="0">gini = 0.0</tspan><tspan x="0" dy="18.3">samples = 1</tspan><tspan x="0" dy="18.3">value = [0, 1]</tspan></text></g>
<g id="n93" transform="translate(4949,838)"><rect x="-68.9" y="-33" width="137.8" height="66"/><text y="-11.5"><tspan x="0">gini = 0.223</tspan><tspan x="0" dy="18.3">samples = 125</tspan><tspan x="0" dy="18.3">value = [16, 109]</tspan></text></g>
<g id="n94" transform="translate(5115.15,838)"><rect x="-60.85" y="-33" width="121.7" height="66"/><text y="-11.5"><tspan x="0">gini = 0.0</tspan><tspan x="0" dy="18.3">samples = 1</tspan><tspan x="0" dy="18.3">value = [1, 0]</tspan></text></g>
<g id="n95" transform="translate(5261.55,838)"><rect x="-60.65" y="-33" width="121.3" height="66"/><text y="-11.5"><tspan x="0">gini = 0.0</tspan><tspan x="0" dy="18.3">samples = 5</tspan><tspan x="0" dy="18.3">value = [5, 0]</tspan></text></g>
<g id="n96" transform="translate(5408.25,838)"><rect x="-60.45" y="-33" width="120.9" height="66"/><text y="-11.5"><tspan x="0">gini = 0.0</tspan><tspan x="0" dy="18.3">samples = 2</tspan><tspan x="0" dy="18.3">value = [0, 2]</tspan></text></g>
<g id="n97" transform="translate(5558.85,838)"><rect x="-65.25" y="-33" width="130.5" height="66"/><text y="-11.5"><tspan x="0">gini = 0.219</tspan><tspan x="0" dy="18.3">samples = 24</tspan><tspan x="0" dy="18.3">value = [3, 21]</tspan></text></g>
<g id="n98" transform="translate(5719.05,838)"><rect x="-70.05" y="-33" width="140.1" height="66"/><text y="-11.5"><tspan x="0">gini = 0.05</tspan><tspan x="0" dy="18.3">samples = 193</tspan><tspan x="0" dy="18.3">value = [5, 188]</tspan></text></g>
<g id="n99" transform="translate(5874.95,838)"><rect x="-60.65" y="-33" width="121.3" height="66"/><text y="-11.5"><tspan x="0">gini = 0.0</tspan><tspan x="0" dy="18.3">samples = 2</tspan><tspan x="0" dy="18.3">value = [2, 0]</tspan></text></g>
<g id="n100" transform="translate(6021.55,838)"><rect x="-60.65" y="-33" width="121.3" height="66"/><text y="-11.5"><tspan x="0">gini = 0.0</tspan><tspan x="0" dy="18.3">samples = 3</tspan><tspan x="0" dy="18.3">value = [0, 3]</tspan></text></g>
<g id="n101" transform="translate(6168.35,838)"><rect x="-60.85" y="-33" width="121.7" height="66"/><text y="-11.5"><tspan x="0">gini = 0.0</tspan><tspan x="0" dy="18.3">samples = 2</tspan><tspan x="0" dy="18.3">value = [2, 0]</tspan></text></g>
<g id="n102" transform="translate(6314.85,838)"><rect x="-60.85" y="-33" width="121.7" height="66"/><text y="-11.5"><tspan x="0">gini = 0.0</tspan><tspan x="0" dy="18.3">samples = 1</tspan><tspan x="0" dy="18.3">value = [0, 1]</tspan></text></g>
<g id="n103" transform="translate(6465.65,838)"><rect x="-65.45" y="-33" width="130.9" height="66"/><text y="-11.5"><tspan x="0">gini = 0.198</tspan><tspan x="0" dy="18.3">samples = 18</tspan><tspan x="0" dy="18.3">value = [2, 16]</tspan></text></g>
<g id="n104" transform="translate(6616.45,838)"><rect x="-60.85" y="-33" width="121.7" height="66"/><text y="-11.5"><tspan x="0">gini = 0.0</tspan><tspan x="0" dy="18.3">samples = 1</tspan><tspan x="0" dy="18.3">value = [1, 0]</tspan></text></g>
</g>
</svg>
